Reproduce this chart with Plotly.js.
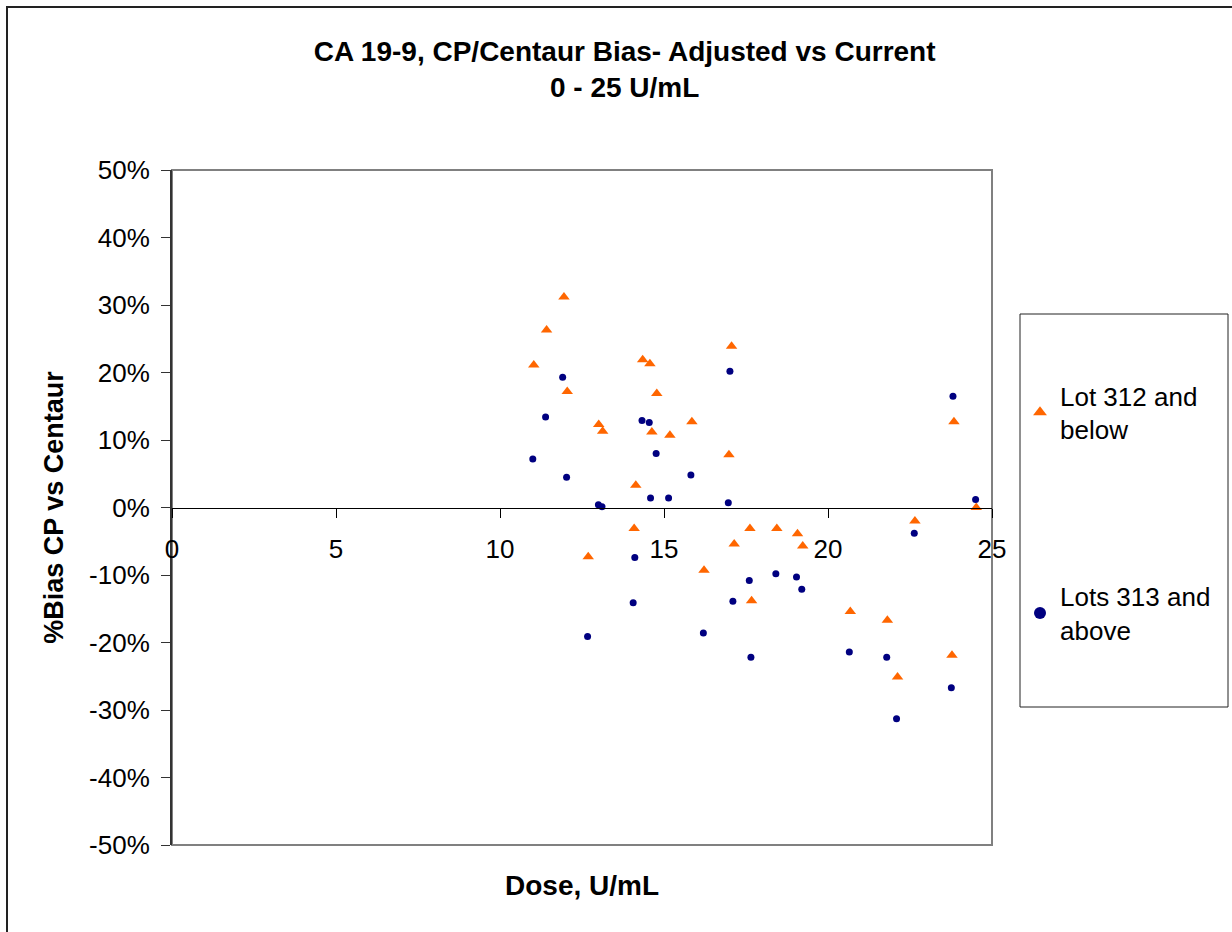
<!DOCTYPE html>
<html>
<head>
<meta charset="utf-8">
<script src="https://cdn.plot.ly/plotly-3.0.1.min.js"></script>
<style>html,body{margin:0;padding:0;background:#fff;}#chart{width:1232px;height:932px;}</style>
</head>
<body>
<div id="chart"></div>
<script>
// Lot 312 and below
const lowDose = [11.95, 11.42, 11.03, 12.05, 14.35, 14.57, 17.06, 14.78, 13.01, 13.13, 14.63, 15.18, 15.85, 16.98, 14.14, 14.09, 17.62, 17.14, 12.69, 16.22, 17.67, 24.52, 22.65, 18.44, 19.07, 19.23, 20.68, 21.81, 22.12, 23.78, 23.84];
const lowBias = [31.2, 26.3, 21.1, 17.2, 21.9, 21.3, 23.9, 16.9, 12.3, 11.3, 11.2, 10.7, 12.7, 7.8, 3.3, -3.1, -3.1, -5.4, -7.3, -9.3, -13.8, 0.0, -2.0, -3.1, -3.9, -5.7, -15.4, -16.7, -25.1, -21.9, 12.7];
// Lots 313 and above
const highDose = [11.91, 11.39, 11.0, 12.03, 14.33, 14.55, 14.76, 17.01, 15.82, 14.59, 15.14, 16.96, 13.0, 13.11, 14.11, 17.6, 17.1, 14.06, 12.67, 16.2, 17.65, 24.5, 22.63, 18.41, 19.04, 19.2, 20.65, 21.79, 23.76, 22.09, 23.81];
const highBias = [19.3, 13.4, 7.2, 4.5, 12.9, 12.6, 8.0, 20.2, 4.8, 1.4, 1.4, 0.7, 0.4, 0.1, -7.4, -10.8, -13.9, -14.1, -19.1, -18.6, -22.2, 1.2, -3.8, -9.8, -10.3, -12.1, -21.4, -22.2, -26.7, -31.3, 16.5];

const seriesNames = ["Lot 312 and<br>below", "Lots 313 and<br>above"];
const xTickVals = [0, 5, 10, 15, 20, 25];
const xTickText = ["0", "5", "10", "15", "20", "25"];
const yTickVals = [-50, -40, -30, -20, -10, 0, 10, 20, 30, 40, 50];
const yTickText = ["-50%", "-40%", "-30%", "-20%", "-10%", "0%", "10%", "20%", "30%", "40%", "50%"];

const FONT = "Liberation Sans, Arial, sans-serif";

const traces = [
  {
    x: highDose, y: highBias, type: "scatter", mode: "markers", name: seriesNames[1],
    legendgroup: "b", legendrank: 2, xaxis: "x2", yaxis: "y",
    marker: {symbol: "circle", size: 7, color: "#000080"}
  },
  {
    x: lowDose, y: lowBias, type: "scatter", mode: "markers", name: seriesNames[0],
    legendgroup: "a", legendrank: 1, xaxis: "x", yaxis: "y",
    marker: {symbol: "triangle-up", size: 10, color: "#FF6600"}
  }
];

// plot area pixel geometry: x 172..992, y 170..845
function px(p){ return (p - 172) / 820; }
function py(p){ return (845 - p) / 675; }

const layout = {
  width: 1232, height: 932,
  margin: {l: 172, r: 240, t: 170, b: 87},
  paper_bgcolor: "#ffffff", plot_bgcolor: "#ffffff",
  font: {family: FONT, color: "#000", size: 26},
  showlegend: true,
  title: {
    text: "<b>CA 19-9, CP/Centaur Bias- Adjusted vs Current<br>0 - 25 U/mL</b>",
    font: {family: FONT, size: 28, color: "#000"},
    x: 0.507, xanchor: "center", xref: "container",
    y: 1 - 61/932, yanchor: "top", yref: "container"
  },
  xaxis: {
    range: [0, 25], anchor: "free", position: 0.5,
    tickvals: xTickVals, ticktext: xTickText,
    showgrid: false, zeroline: false, showline: true, linecolor: "#000", linewidth: 1.5,
    ticks: "outside", ticklen: 9, tickcolor: "#000", tickwidth: 1,
    tickfont: {family: FONT, size: 26}, ticklabelstandoff: 9
  },
  xaxis2: {
    range: [0, 25], overlaying: "x", anchor: "y", side: "bottom",
    showgrid: false, zeroline: false, showline: false, showticklabels: false, ticks: "",
    title: {text: "<b>Dose, U/mL</b>", font: {family: FONT, size: 28}, standoff: 30}
  },
  yaxis: {
    range: [-50, 50], tickvals: yTickVals, ticktext: yTickText,
    showgrid: false, zeroline: false, showline: true, linecolor: "#333", linewidth: 2,
    ticks: "outside", ticklen: 9, tickcolor: "#333", tickwidth: 1,
    tickfont: {family: FONT, size: 26}, ticklabelstandoff: 6,
    title: {text: "<b>%Bias CP vs Centaur</b>", font: {family: FONT, size: 27}, standoff: 18}
  },
  legend: {
    xref: "container", yref: "container",
    x: 1020/1232, xanchor: "left", y: 1 - 372/932, yanchor: "top",
    font: {family: FONT, size: 26, color: "#000"},
    tracegroupgap: 130, traceorder: "grouped",
    bgcolor: "rgba(0,0,0,0)", borderwidth: 0, itemsizing: "constant"
  },
  shapes: [
    {type: "rect", xref: "paper", yref: "paper", x0: 0, x1: 1, y0: 0, y1: 1,
     line: {color: "#808080", width: 2}, layer: "below"},
    {type: "rect", xref: "paper", yref: "paper", x0: px(1020), x1: px(1228), y0: py(707), y1: py(314),
     line: {color: "#222", width: 1}},
    {type: "rect", xref: "paper", yref: "paper", x0: px(7), x1: px(1245), y0: py(945), y1: py(7),
     line: {color: "#222", width: 2}}
  ]
};

Plotly.newPlot("chart", traces, layout, {displayModeBar: false, staticPlot: true});
</script>
</body>
</html>
